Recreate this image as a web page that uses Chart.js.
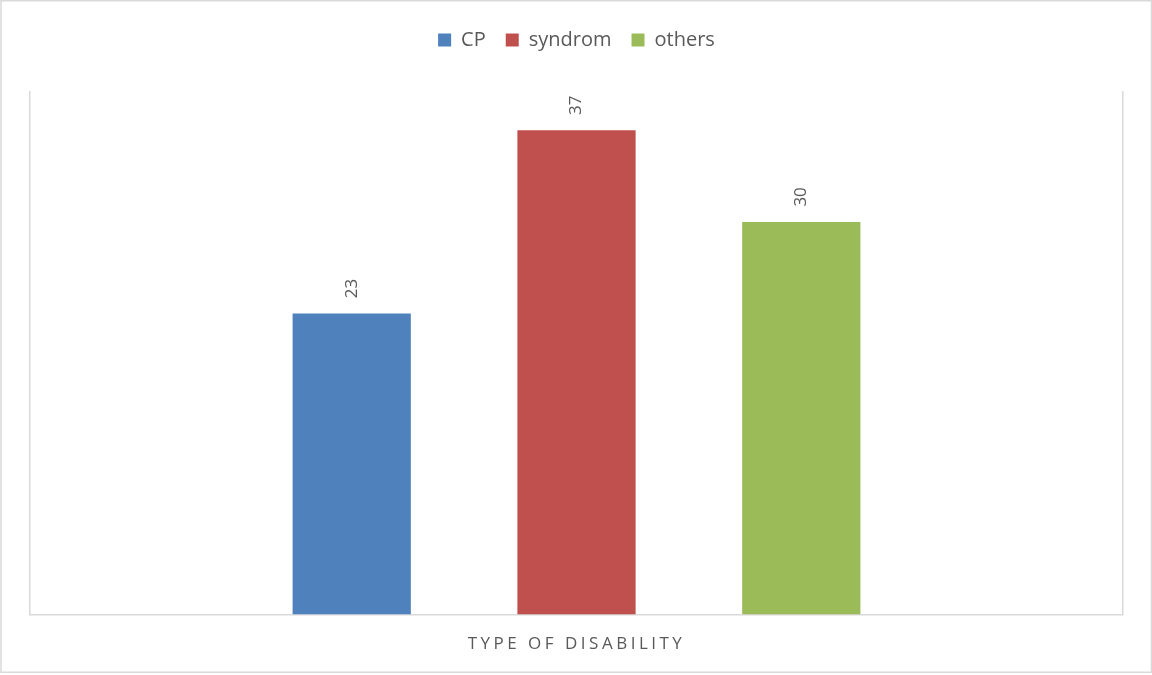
<!DOCTYPE html>
<html>
<head>
<meta charset="utf-8">
<script src="https://cdn.jsdelivr.net/npm/chart.js@4.4.1/dist/chart.umd.min.js"></script>
<style>
  html, body { margin: 0; padding: 0; background: #ffffff; }
  #wrap { position: relative; width: 1152px; height: 675px; }
</style>
</head>
<body>
<div id="wrap"><canvas id="chart" width="1152" height="675"></canvas></div>
<script>
// Category and series values
const categories = ['TYPE OF DISABILITY'];
const seriesNames = ['CP', 'syndrom', 'others'];
const cpValues = [23];
const syndromValues = [37];
const othersValues = [30];
const yMin = 0;
const yMax = 40;

const colors = ['#4F81BD', '#C0504D', '#9BBB59'];
const textGray = '#595959';
const lineGray = '#D9D9D9';
const fontFamily = "'Open Sans', 'Liberation Sans', sans-serif";

// Outer frame around the whole chart
const framePlugin = {
  id: 'frame',
  beforeDraw(chart) {
    const ctx = chart.ctx;
    ctx.save();
    ctx.strokeStyle = lineGray;
    ctx.lineWidth = 1.5;
    ctx.strokeRect(1, 0.75, chart.width - 1.5, 671.5);
    ctx.restore();
  }
};

// Extra room between the legend row and the plot area
const legendGapPlugin = {
  id: 'legendGap',
  afterInit(chart) {
    const legend = chart.legend;
    if (!legend || legend._gapPatched) return;
    const origFit = legend.fit;
    legend.fit = function () {
      origFit.call(this);
      this.height += 31;
    };
    legend._gapPatched = true;
  }
};

// Wider letter spacing for the category label under the axis
const spacedLabelsPlugin = {
  id: 'spacedLabels',
  afterLayout(chart) {
    const xs = chart.scales.x;
    if (!xs || xs._spacedPatched) return;
    const orig = xs.drawLabels;
    xs.drawLabels = function (area) {
      const ctx = this.ctx;
      ctx.save();
      ctx.letterSpacing = '3.5px';
      orig.call(this, area);
      ctx.restore();
    };
    xs._spacedPatched = true;
  }
};

// Value labels above each bar, rotated to read bottom-to-top
const valueLabelsPlugin = {
  id: 'valueLabels',
  afterDatasetsDraw(chart) {
    const ctx = chart.ctx;
    ctx.save();
    ctx.fillStyle = textGray;
    ctx.font = '17px ' + fontFamily;
    ctx.textAlign = 'center';
    ctx.textBaseline = 'middle';
    chart.data.datasets.forEach((ds, i) => {
      const meta = chart.getDatasetMeta(i);
      meta.data.forEach((bar, j) => {
        const v = ds.data[j];
        ctx.save();
        ctx.translate(bar.x, bar.y - 25);
        ctx.rotate(-Math.PI / 2);
        ctx.fillText(String(v), 0, 0);
        ctx.restore();
      });
    });
    ctx.restore();
  }
};

const seriesValues = [cpValues, syndromValues, othersValues];

new Chart(document.getElementById('chart'), {
  type: 'bar',
  data: {
    labels: categories,
    datasets: seriesNames.map((name, i) => ({
      label: name,
      data: seriesValues[i],
      backgroundColor: colors[i],
      borderWidth: 0,
      barPercentage: 0.526,
      categoryPercentage: 0.617
    }))
  },
  options: {
    responsive: false,
    animation: false,
    devicePixelRatio: 1,
    layout: { padding: { left: 30, right: 29, top: 10, bottom: 2 } },
    plugins: {
      legend: {
        display: true,
        position: 'top',
        labels: {
          color: textGray,
          font: { family: fontFamily, size: 20 },
          boxWidth: 13,
          boxHeight: 13,
          padding: 20
        }
      },
      tooltip: { enabled: false },
      title: { display: false }
    },
    scales: {
      x: {
        offset: true,
        grid: {
          display: true,
          offset: true,
          color: lineGray,
          lineWidth: 1.5,
          drawTicks: false
        },
        border: { display: true, color: lineGray, width: 1.5 },
        ticks: {
          color: textGray,
          font: { family: fontFamily, size: 17 },
          padding: 19
        }
      },
      y: {
        display: false,
        min: yMin,
        max: yMax
      }
    }
  },
  plugins: [framePlugin, legendGapPlugin, spacedLabelsPlugin, valueLabelsPlugin]
});
</script>
</body>
</html>
